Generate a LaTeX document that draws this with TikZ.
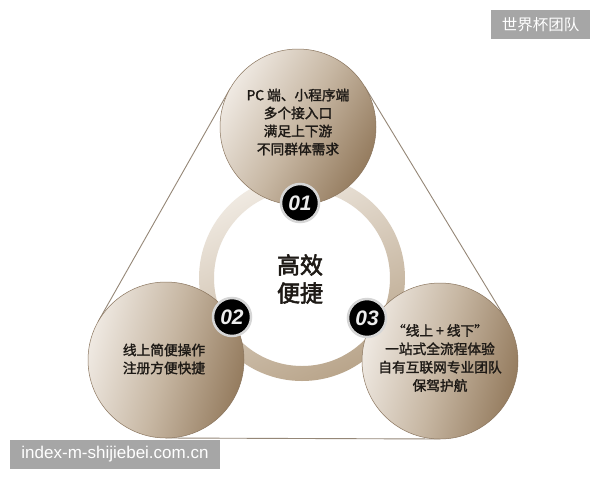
\documentclass[tikz,border=0pt]{standalone}
\usepackage{fontspec}
\usetikzlibrary{calc}
\newfontfamily\cjk{Noto Sans CJK SC}
\newfontfamily\cjkm{Noto Sans CJK SC}[FakeBold=1.7]
\newfontfamily\cjkb{Noto Sans CJK SC}[FakeBold=2.5]
\newfontfamily\numfont{Liberation Sans}
\newfontfamily\urlfont{Liberation Sans}
\definecolor{lightA}{HTML}{EFE9E2}
\definecolor{midA}{HTML}{C7B7A3}
\definecolor{darkA}{HTML}{957C5F}
\definecolor{ringA}{HTML}{F0EAE2}
\definecolor{ringB}{HTML}{B9A58B}
\definecolor{edge}{HTML}{8A755E}
\definecolor{hullc}{HTML}{958777}
\definecolor{txtc}{HTML}{1E1A16}
\definecolor{wmgray}{HTML}{A6A6A6}
\definecolor{badgeedge}{HTML}{D6D6D6}
\definecolor{numc}{HTML}{EDEDED}
\begin{document}
\begin{tikzpicture}[x=1pt,y=-1pt,
  hull/.style={draw=hullc, line width=0.9pt},
  bigc/.style={circle, minimum size=156pt, inner sep=0pt, draw=edge, line width=0.5pt},
  badge/.style={circle, minimum size=38pt, inner sep=0pt, fill=black, draw=badgeedge, line width=2.5pt, text=numc, font=\numfont\bfseries\itshape\fontsize{21}{21}\selectfont},
  txt/.style={align=center, text=txtc, inner sep=0pt},
  wm/.style={fill=wmgray, text=white, inner sep=0pt}]
\useasboundingbox (0,0) rectangle (600,480);
\fill[white] (0,0) rectangle (600,480);
\coordinate (T) at (298,127);
\coordinate (L) at (166,360);
\coordinate (R) at (440,361);
\coordinate (C) at (302,278);
% hull lines
\coordinate (h1) at ($(T)!78pt!-90:(L)$);
\coordinate (h2) at ($(L)!78pt!90:(T)$);
\coordinate (h3) at ($(T)!78pt!90:(R)$);
\coordinate (h4) at ($(R)!78pt!-90:(T)$);
\coordinate (h5) at ($(L)!78pt!-90:(R)$);
\coordinate (h6) at ($(R)!78pt!90:(L)$);
\draw[hull] (h1) -- (h2);
\draw[hull] (h3) -- (h4);
\draw[hull] (h5) -- (h6);
% ring
\shade[even odd rule, top color=ringA, bottom color=ringB, shading angle=25] (C) circle[radius=103pt] (C) circle[radius=88pt];
% circles
\node[bigc, top color=lightA, bottom color=darkA, middle color=midA, shading angle=60] (CT) at (T) {};
\node[bigc, top color=lightA, bottom color=darkA, middle color=midA, shading angle=75] (CL) at (L) {};
\node[bigc, top color=lightA, bottom color=darkA, middle color=midA, shading angle=75] (CR) at (R) {};
% badges
\node[badge] (B1) at (300,203) {01};
\node[badge] (B2) at (232,317) {02};
\node[badge] (B3) at (367,318) {03};
% texts
\node[txt, font=\cjkm\fontsize{13.7}{18}\selectfont] (t1) at (298,122) {PC 端、小程序端\\多个接入口\\满足上下游\\不同群体需求};
\node[txt, font=\cjkm\fontsize{13.7}{18}\selectfont] (t2) at (164,359) {线上简便操作\\注册方便快捷};
\node[txt, font=\cjkm\fontsize{13.7}{18.3}\selectfont] (t3) at (440,358) {“线上 + 线下”\\一站式全流程体验\\自有互联网专业团队\\保驾护航};
\node[txt, font=\cjkb\fontsize{23}{28}\selectfont] (t0) at (300,279) {高效\\便捷};
% watermarks
\node[wm, minimum width=99pt, minimum height=29pt, font=\cjk\fontsize{15.5}{15.5}\selectfont] (w1) at (540.5,24.5) {世界杯团队};
\node[wm, minimum width=210pt, minimum height=29pt, font=\urlfont\fontsize{17}{17}\selectfont] (w2) at (115,454.5) {index-m-shijiebei.com.cn};
\end{tikzpicture}
\end{document}
